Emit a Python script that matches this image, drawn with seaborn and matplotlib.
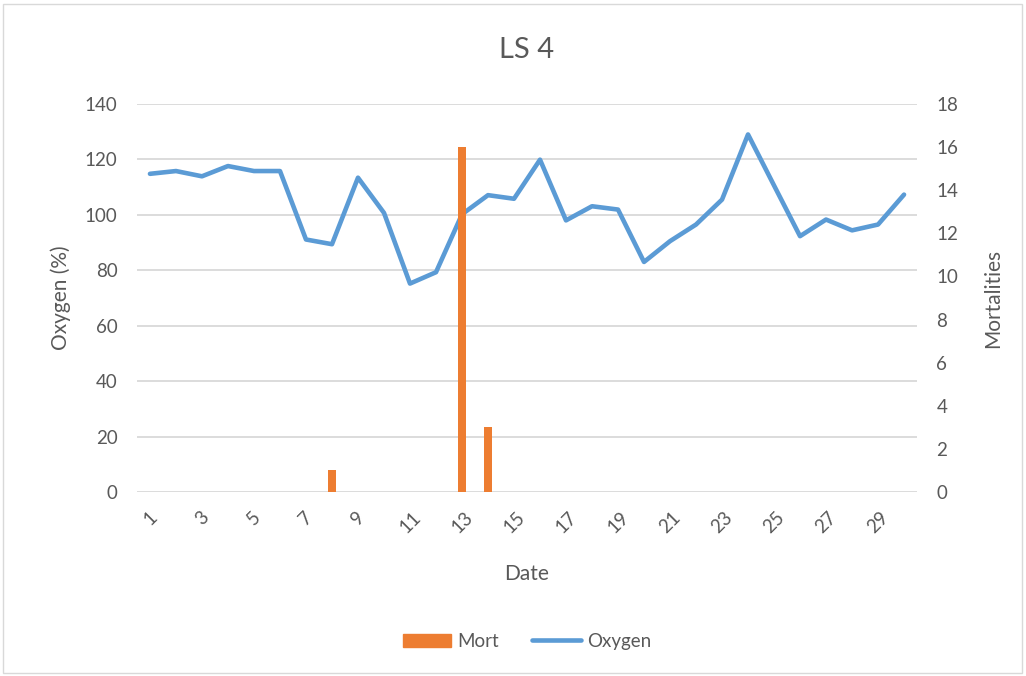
import matplotlib
matplotlib.use("Agg")
import matplotlib.pyplot as plt
import matplotlib.patches as mpatches
import matplotlib.lines as mlines
import pandas as pd
import seaborn as sns

# Daily records for tank LS 4
days = list(range(1, 31))
oxygen = [114.8, 115.8, 113.9, 117.6, 115.8, 115.8, 91.1, 89.4, 113.4, 100.7,
          75.2, 79.3, 100.2, 107.1, 105.8, 119.9, 98.0, 103.1, 101.9, 83.0,
          90.5, 96.5, 105.5, 129.0, 110.6, 92.3, 98.3, 94.4, 96.5, 107.3]
mort = [0, 0, 0, 0, 0, 0, 0, 1, 0, 0,
        0, 0, 16, 3, 0, 0, 0, 0, 0, 0,
        0, 0, 0, 0, 0, 0, 0, 0, 0, 0]
left_ticks = list(range(0, 141, 20))
right_ticks = list(range(0, 19, 2))
date_ticks = list(range(1, 30, 2))

df = pd.DataFrame({"Date": days, "Oxygen": oxygen, "Mort": mort})

ORANGE = "#ED7D31"
BLUE = "#5B9BD5"
GRID = "#D9D9D9"
TEXT = "#595959"

sns.set_style("white")
plt.rcParams["font.family"] = ["Lato", "DejaVu Sans"]

fig = plt.figure(figsize=(10.26, 6.76), dpi=100)
ax = fig.add_axes([0.1335, 0.2722, 0.7603, 0.574])
ax2 = ax.twinx()

sns.lineplot(data=df, x="Date", y="Oxygen", ax=ax, color=BLUE, lw=3.3,
             solid_capstyle="round", solid_joinstyle="round", legend=False)
sns.barplot(data=df, x="Date", y="Mort", ax=ax2, color=ORANGE, width=0.34,
            native_scale=True, saturation=1, linewidth=0, legend=False)

ax.set_xlim(0.5, 30.5)
ax.set_ylim(0, 140)
ax2.set_ylim(0, 18)
ax.set_yticks(left_ticks)
ax2.set_yticks(right_ticks)
ax.set_xticks(date_ticks)
ax.set_xticklabels([str(d) for d in date_ticks], rotation=45, ha="center")

for a in (ax, ax2):
    for s in a.spines.values():
        s.set_visible(False)
    a.tick_params(length=0, labelsize=13.5, colors=TEXT)
ax.grid(axis="y", color=GRID, lw=1.3)
ax.set_axisbelow(True)
ax2.grid(False)
ax.tick_params(axis="x", pad=12)
ax.tick_params(axis="y", pad=14)
ax2.tick_params(axis="y", pad=14)

ax.set_xlabel("Date", fontsize=15, color=TEXT, labelpad=20)
ax.set_ylabel("Oxygen (%)", fontsize=15, color=TEXT, labelpad=10)
ax2.set_ylabel("Mortalities", fontsize=15, color=TEXT, labelpad=18)

fig.text(0.5135, 0.926, "LS 4", ha="center", va="center", fontsize=21, color=TEXT)

handles = [mpatches.Patch(color=ORANGE, label="Mort"),
           mlines.Line2D([], [], color=BLUE, lw=3.3, solid_capstyle="round", label="Oxygen")]
fig.legend(handles=handles, loc="center", bbox_to_anchor=(0.5135, 0.051), ncol=2,
           frameon=False, fontsize=13.5, labelcolor=TEXT, handlelength=2.6,
           handletextpad=0.3, columnspacing=1.8)

fig.patches.append(mpatches.Rectangle((0.003, 0.005), 0.993, 0.989, transform=fig.transFigure,
                                      fill=False, edgecolor=GRID, lw=1))

fig.savefig("out.png", dpi=100)
